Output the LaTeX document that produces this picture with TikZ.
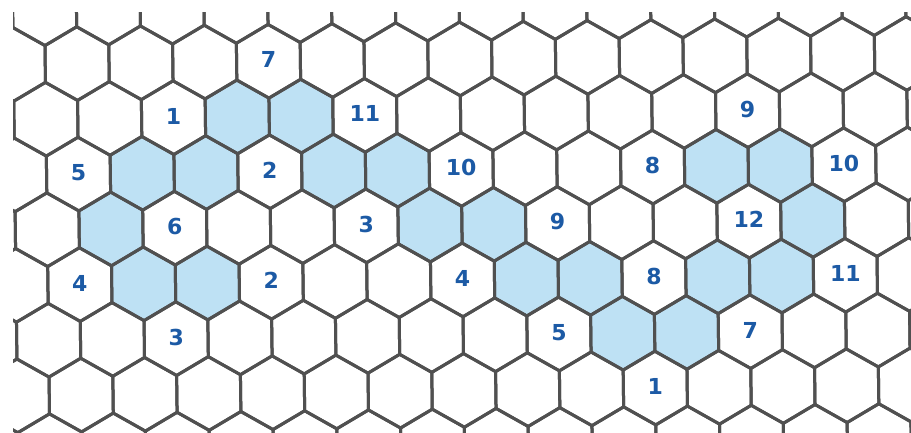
\documentclass[tikz,border=0pt]{standalone}
\usepackage{fontspec}
\setmainfont{DejaVu Sans}
\definecolor{gridline}{HTML}{505050}
\definecolor{cellblue}{HTML}{BEE1F4}
\definecolor{numblue}{HTML}{1C5AA5}
\tikzset{
  hexline/.style={draw=gridline, line width=3pt, line join=round},
  hexfill/.style={fill=cellblue},
  numlabel/.style={text=numblue, font=\fontsize{22}{22}\selectfont\bfseries, inner sep=0pt}
}
\begin{document}
\begin{tikzpicture}[x=1pt,y=1pt]
\useasboundingbox (0,0) rectangle (911,433);
\fill[white] (0,0) rectangle (911,433);
\begin{scope}
\clip (13,0) rectangle (911,420);
\begin{scope}[shift={(455,216.5)}, rotate=0.7]
  % blue cells
  \foreach \n/\k in {1/2,1/3,2/1,2/2,2/4,2/5,2/10,2/11,3/0,3/5,3/6,3/11,4/1,4/2,4/7,4/8,4/10,4/11,5/8,5/9} {
    \pgfmathsetmacro\cx{79+63.8*\k+31.9*mod(abs(\n),2)-455}
    \pgfmathsetmacro\cy{157.5-55.25*\n}
    \fill[hexfill, shift={(\cx,\cy)}] (30:36.83) -- (90:36.83) -- (150:36.83) -- (210:36.83) -- (270:36.83) -- (330:36.83) -- cycle;
  }
  % grid
  \foreach \n in {-1,...,7} {
    \foreach \k in {-2,...,14} {
      \pgfmathsetmacro\cx{79+63.8*\k+31.9*mod(abs(\n),2)-455}
      \pgfmathsetmacro\cy{157.5-55.25*\n}
      \draw[hexline, shift={(\cx,\cy)}] (30:36.83) -- (90:36.83) -- (150:36.83) -- (210:36.83) -- (270:36.83) -- (330:36.83) -- cycle;
    }
  }
  % labels
  \foreach \n/\k/\t in {0/3/7, 1/1/1, 1/4/11, 1/10/9, 2/0/5, 2/3/2, 2/6/10, 2/9/8, 2/12/10, 3/1/6, 3/4/3, 3/7/9, 3/10/12, 4/0/4, 4/3/2, 4/6/4, 4/9/8, 4/12/11, 5/1/3, 5/7/5, 5/10/7, 6/9/1} {
    \pgfmathsetmacro\cx{79+63.8*\k+31.9*mod(abs(\n),2)-455}
    \pgfmathsetmacro\cy{157.5-55.25*\n+1.5}
    \node[numlabel] (L\n-\k) at (\cx,\cy) {\t};
  }
\end{scope}
\end{scope}
\end{tikzpicture}
\end{document}
